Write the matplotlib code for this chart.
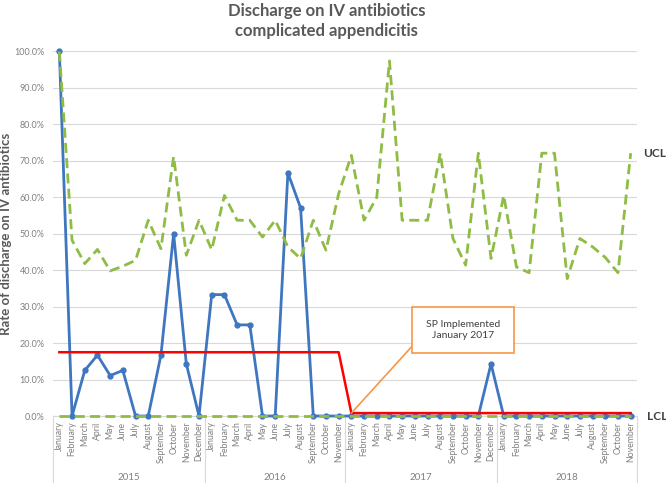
import matplotlib
matplotlib.use("Agg")
import matplotlib.pyplot as plt
import matplotlib.transforms as mtransforms
import numpy as np

plt.rcParams["font.family"] = ["Lato", "DejaVu Sans"]

# data
years = ["2015", "2016", "2017", "2018"]
months_per_year = [
    ["January", "February", "March", "April", "May", "June", "July", "August",
     "September", "October", "November", "December"],
    ["January", "February", "March", "April", "May", "June", "July", "August",
     "September", "October", "November"],
    ["January", "February", "March", "April", "May", "June", "July", "August",
     "September", "October", "November", "December"],
    ["January", "February", "March", "April", "May", "June", "July", "August",
     "September", "October", "November"],
]
rate = [
    100.0, 0.0, 12.5, 16.7, 11.1, 12.5, 0.0, 0.0, 16.7, 50.0, 14.3, 0.0,
    33.3, 33.3, 25.0, 25.0, 0.0, 0.0, 66.7, 57.1, 0.0, 0.0, 0.0,
    0.0, 0.0, 0.0, 0.0, 0.0, 0.0, 0.0, 0.0, 0.0, 0.0, 0.0, 14.3,
    0.0, 0.0, 0.0, 0.0, 0.0, 0.0, 0.0, 0.0, 0.0, 0.0, 0.0,
]
center = [17.5] * 23 + [0.8] * 23
ucl = [
    100.0, 48.2, 41.8, 45.7, 39.8, 41.1, 42.7, 53.7, 45.9, 71.2, 44.1, 53.7,
    45.6, 60.5, 53.7, 53.7, 49.1, 53.7, 46.4, 43.2, 53.7, 45.5, 61.0,
    71.5, 53.7, 60.0, 97.4, 53.7, 53.7, 53.7, 72.1, 48.7, 41.4, 72.1, 43.2,
    60.5, 40.9, 39.3, 72.1, 72.1, 37.7, 48.7, 46.4, 43.5, 39.3, 72.1,
]
lcl = [0.0] * 46
yticks = [0, 10, 20, 30, 40, 50, 60, 70, 80, 90, 100]

month_labels = [m for ms in months_per_year for m in ms]
x = np.arange(len(month_labels))

fig = plt.figure(figsize=(6.66, 4.83), dpi=100)
ax = fig.add_axes([0.0796, 0.1387, 0.8769, 0.7547])

grey_txt = "#808080"
dark_txt = "#595959"
green = "#8fbc45"

ax.plot(x, rate, color="#3f76c0", linewidth=2.0, marker="o", markersize=3.5,
        zorder=3, clip_on=False)
ax.plot(x, lcl, color=green, linewidth=2.0, dashes=(3.6, 1.9), zorder=4, clip_on=False)
ax.plot(x, ucl, color=green, linewidth=2.0, dashes=(3.6, 1.9), zorder=4, clip_on=False)
ax.plot(x, center, color="#ff0000", linewidth=1.8, zorder=5, clip_on=False)

ax.set_xlim(-0.5, len(x) - 0.5)
ax.set_ylim(0, 100)
ax.set_yticks(yticks)
ax.set_yticklabels([f"{v:.1f}%" for v in yticks], fontsize=6.5, color=grey_txt)
ax.grid(axis="y", color="#d9d9d9", linewidth=0.8)
ax.set_axisbelow(True)
ax.tick_params(axis="y", length=0, pad=6)

ax.set_xticks(x)
ax.set_xticklabels(month_labels, rotation=90, fontsize=6.3, color=grey_txt, va="top")
ax.tick_params(axis="x", length=0, pad=4)

for side in ["top", "right", "left"]:
    ax.spines[side].set_visible(False)
ax.spines["bottom"].set_color("#d9d9d9")

# year separators and labels below the month labels
trans = mtransforms.blended_transform_factory(ax.transData, ax.transAxes)
bounds = [-0.5]
for ms in months_per_year:
    bounds.append(bounds[-1] + len(ms))
for b in bounds:
    ax.plot([b, b], [0, -0.184], color="#d9d9d9", linewidth=0.8,
            transform=trans, clip_on=False)
for i, yr in enumerate(years):
    ax.text((bounds[i] + bounds[i + 1]) / 2, -0.17, yr, transform=trans,
            ha="center", va="center", fontsize=7, color=grey_txt)

ax.set_ylabel("Rate of discharge on IV antibiotics", fontsize=9.5,
              fontweight="bold", color=dark_txt, labelpad=2)

fig.text(0.49, 0.993, "Discharge on IV antibiotics\ncomplicated appendicitis",
         ha="center", va="top", fontsize=12, fontweight="bold",
         color=dark_txt, linespacing=1.3)

ytrans = ax.get_yaxis_transform()
ax.text(1.01, ucl[-1], "UCL", transform=ytrans, ha="left", va="center",
        fontsize=8.5, fontweight="bold", color="#404040")
ax.text(1.017, lcl[-1], "LCL", transform=ytrans, ha="left", va="center",
        fontsize=8.5, fontweight="bold", color="#404040")

ax.annotate("SP Implemented\nJanuary 2017", xy=(23, center[23]),
            xytext=(31.8, 23.6), ha="center", va="center", fontsize=7.5,
            color="#404040",
            bbox=dict(boxstyle="square,pad=1.3", fc="white", ec="#f79646", lw=1.2),
            arrowprops=dict(arrowstyle="-", color="#f79646", lw=1.2,
                            relpos=(0, 0.45), shrinkA=0, shrinkB=0),
            zorder=6)

fig.savefig("out.png", dpi=100)
